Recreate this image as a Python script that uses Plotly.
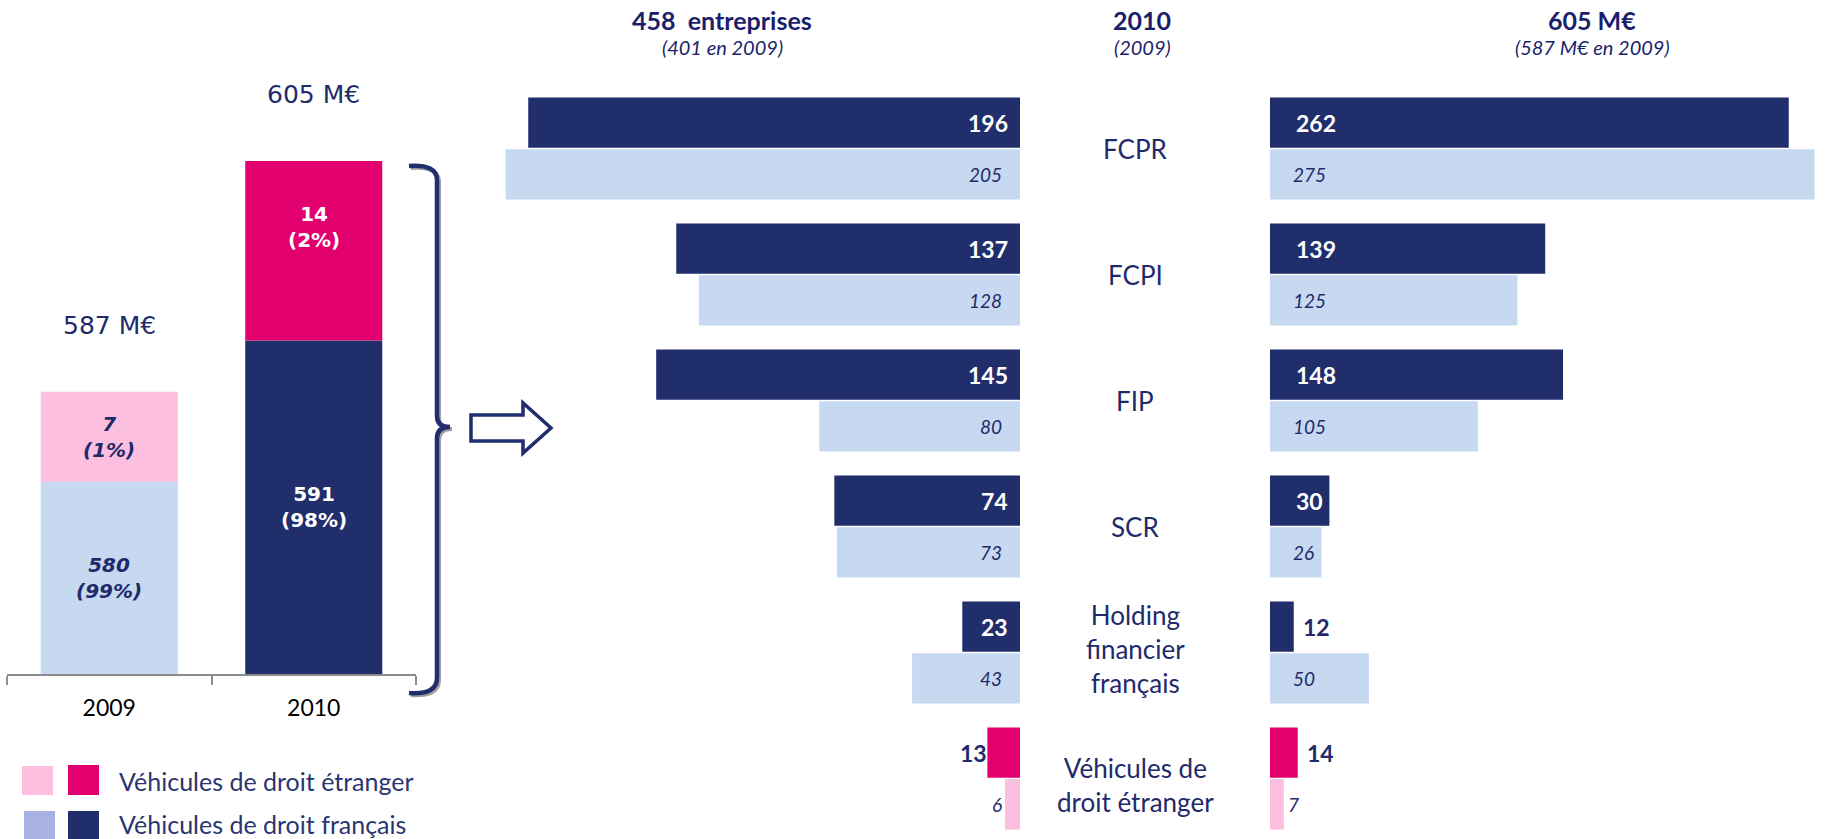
import plotly.graph_objects as go

W, H = 1826, 839          # browser window
M = 0                     # page margin removed by post_script below
FW, FH = W - 2 * M, H - 2 * M

# ---------------- data ----------------
years = ["2009", "2010"]
droit_francais = [580, 591]
droit_etranger = [7, 14]

categories = ["FCPR", "FCPI", "FIP", "SCR",
              "Holding<br>financier<br>français",
              "Véhicules de<br>droit étranger"]
category_is_foreign = [False, False, False, False, False, True]
entreprises_2010 = [196, 137, 145, 74, 23, 13]
entreprises_2009 = [205, 128, 80, 73, 43, 6]
montants_2010 = [262, 139, 148, 30, 12, 14]
montants_2009 = [275, 125, 105, 26, 50, 7]

header_entreprises = ["458\u00a0 entreprises", "(401 en 2009)"]
header_year = ["2010", "(2009)"]
header_montants = ["605 M€", "(587 M€ en 2009)"]
legend_labels = ["Véhicules de droit étranger", "Véhicules de droit français"]

# ---------------- style ----------------
NAVY = "#212E6C"
LIGHT_BLUE = "#C6D9F0"
PINK = "#E2006E"
LIGHT_PINK = "#FDBFDF"
LAVENDER = "#A8B2E2"
TXT = "#1F2A6B"
FONT = "Lato"
LFONT = "DejaVu Sans"
label_yshift = [0, 0, 0, 0, 4, -6]   # small vertical nudges of the centre labels (px)


def px(x):
    return (x - M) / FW


def py(y):
    return 1 - (y - M) / FH


fig = go.Figure()

# ---------------- left stacked chart ----------------
col_fr = [LIGHT_BLUE, NAVY]
col_etr = [LIGHT_PINK, PINK]
fig.add_trace(go.Bar(x=years, y=droit_francais, marker_color=col_fr, width=0.67,
                     xaxis="x3", yaxis="y3", showlegend=False, marker_line_width=0))
fig.add_trace(go.Bar(x=years, y=droit_etranger, base=droit_francais, marker_color=col_etr,
                     width=0.67, xaxis="x3", yaxis="y3", showlegend=False, marker_line_width=0))

Y3_MIN, Y3_MAX = 565, 605
annotations = []
totals = [a + b for a, b in zip(droit_francais, droit_etranger)]
for i, yr in enumerate(years):
    fr, et, tot = droit_francais[i], droit_etranger[i], totals[i]
    p_fr = round(100 * fr / tot)
    p_et = round(100 * et / tot)
    dark = i == 1
    fcol = "white" if dark else TXT
    fmt = (lambda s: f"<b>{s}</b>") if dark else (lambda s: f"<b><i>{s}</i></b>")
    annotations.append(dict(x=i, y=(max(Y3_MIN, 0) + fr) / 2, xref="x3", yref="y3",
                            xanchor="center", yanchor="middle",
                            text=fmt(f"{fr}<br>({p_fr}%)"), showarrow=False,
                            font=dict(family=LFONT, size=20, color=fcol)))
    annotations.append(dict(x=i, y=fr + et / 2, xref="x3", yref="y3",
                            xanchor="center", yanchor="middle",
                            yshift=24 if dark else 0,
                            text=fmt(f"{et}<br>({p_et}%)"), showarrow=False,
                            font=dict(family=LFONT, size=20, color=fcol)))
    annotations.append(dict(x=i, y=tot, xref="x3", yref="y3", yshift=66,
                            xanchor="center", yanchor="middle",
                            text=f"{tot} M€", showarrow=False,
                            font=dict(family=LFONT, size=25, color=TXT)))

# ---------------- butterfly ----------------
c2010 = [PINK if f else NAVY for f in category_is_foreign]
c2009 = [LIGHT_PINK if f else LIGHT_BLUE for f in category_is_foreign]
OFF_TOP, OFF_BOT, BW = -0.405, 0.005, 0.40

for xa, v10, v09 in (("x", entreprises_2010, entreprises_2009),
                     ("x2", montants_2010, montants_2009)):
    fig.add_trace(go.Bar(y=categories, x=v10, orientation="h", marker_color=c2010,
                         offset=OFF_TOP, width=BW, xaxis=xa, yaxis="y",
                         showlegend=False, marker_line_width=0))
    fig.add_trace(go.Bar(y=categories, x=v09, orientation="h", marker_color=c2009,
                         offset=OFF_BOT, width=BW, xaxis=xa, yaxis="y",
                         showlegend=False, marker_line_width=0))

THRESH = 20
for side, xa, v10, v09 in (("L", "x", entreprises_2010, entreprises_2009),
                           ("R", "x2", montants_2010, montants_2009)):
    anc = "right" if side == "L" else "left"
    for i in range(len(categories)):
        for v, yoff, bold in ((v10[i], OFF_TOP + BW / 2, True), (v09[i], OFF_BOT + BW / 2, False)):
            if bold:
                txt = f"<b>{v}</b>"
                size = 23
            else:
                txt = f"<i>{v}</i>"
                size = 19
            if v >= THRESH:
                col = "white" if bold else TXT
                x = 0
                if side == "R":
                    shift = 24 if bold else 21
                else:
                    shift = -(10 if bold else 16)
            else:
                col = TXT
                x = v
                if side == "R":
                    shift = 7 if bold else 2
                else:
                    shift = 2 if bold else -1
            annotations.append(dict(x=x, y=i + yoff, xref=xa, yref="y", xanchor=anc,
                                    yanchor="middle", xshift=shift, text=txt,
                                    showarrow=False,
                                    font=dict(family=FONT, size=size, color=col)))

# category labels
for i, c in enumerate(categories):
    annotations.append(dict(x=px(1135), y=i, xref="paper", yref="y", text=c,
                            xanchor="center", yanchor="middle", showarrow=False,
                            yshift=label_yshift[i],
                            font=dict(family=FONT, size=26, color=TXT)))

# headers
for xc, (h1, h2) in ((722, header_entreprises), (1142, header_year), (1592, header_montants)):
    annotations.append(dict(x=px(xc), y=py(20), xref="paper", yref="paper",
                            xanchor="center", yanchor="middle", text=f"<b>{h1}</b>",
                            showarrow=False, font=dict(family=FONT, size=25, color="#1B1F6B")))
    annotations.append(dict(x=px(xc), y=py(47), xref="paper", yref="paper",
                            xanchor="center", yanchor="middle", text=f"<i>{h2}</i>",
                            showarrow=False, font=dict(family=FONT, size=20, color="#1B1F6B")))

# legend text
for yy, lab in ((781, legend_labels[0]), (824, legend_labels[1])):
    annotations.append(dict(x=px(117), y=py(yy), xref="paper", yref="paper",
                            xanchor="left", yanchor="middle",
                            text=lab, showarrow=False,
                            font=dict(family=FONT, size=25, color="#2A3570")))

# ---------------- decorative shapes ----------------
shapes = []


def path_from(cmds):
    out = []
    for cmd, pts in cmds:
        out.append(cmd + " " + " ".join(f"{px(x):.5f},{py(y):.5f}" for (x, y) in pts))
    return " ".join(out)


def bracket(dx, dy):
    return path_from([
        ("M", [(409 + dx, 166 + dy)]),
        ("Q", [(437 + dx, 164 + dy), (437 + dx, 180 + dy)]),
        ("L", [(437 + dx, 416 + dy)]),
        ("Q", [(437 + dx, 427 + dy), (450 + dx, 427 + dy)]),
        ("M", [(450 + dx, 427 + dy)]),
        ("Q", [(437 + dx, 427 + dy), (437 + dx, 438 + dy)]),
        ("L", [(437 + dx, 678 + dy)]),
        ("Q", [(437 + dx, 695 + dy), (409 + dx, 693 + dy)]),
    ])


shapes.append(dict(type="path", xref="paper", yref="paper", path=bracket(2, 2),
                   line=dict(color="#A0A0A0", width=4)))
shapes.append(dict(type="path", xref="paper", yref="paper", path=bracket(0, 0),
                   line=dict(color=NAVY, width=4.5)))

arrow_pts = [(471, 415), (523, 415), (523, 403), (551, 428), (523, 453), (523, 441), (471, 441)]
arrow_cmds = [("M", [arrow_pts[0]])] + [("L", [p]) for p in arrow_pts[1:]]
shapes.append(dict(type="path", xref="paper", yref="paper",
                   path=path_from(arrow_cmds) + " Z",
                   fillcolor="white", line=dict(color=NAVY, width=3.5)))

# legend squares
for (x0, y0, x1, y1, c) in ((22, 766, 53, 795, LIGHT_PINK), (68, 765, 99, 795, PINK),
                            (24, 811, 55, 839, LAVENDER), (68, 811, 99, 839, NAVY)):
    shapes.append(dict(type="rect", xref="paper", yref="paper", x0=px(x0), x1=px(x1),
                       y0=max(py(y1), 0), y1=py(y0), fillcolor=c, line=dict(width=0)))

fig.update_layout(
    width=FW, height=FH, autosize=False,
    margin=dict(l=0, r=0, t=0, b=0),
    paper_bgcolor="white", plot_bgcolor="rgba(0,0,0,0)",
    barmode="overlay", showlegend=False, hovermode=False,
    annotations=annotations, shapes=shapes,
    xaxis=dict(domain=[px(468), px(1020)], range=[220, 0], visible=False, anchor="y",
               fixedrange=True),
    xaxis2=dict(domain=[px(1270), 1.0], range=[0, (W - M - 1270) / 1.98], visible=False,
                anchor="y", fixedrange=True),
    yaxis=dict(domain=[0, 1], type="category", categoryorder="array",
               categoryarray=categories,
               range=[(H - M - 148.5) / 126, (M - 148.5) / 126], visible=False),
    xaxis3=dict(domain=[px(7), px(416)], anchor="y3", type="category",
                range=[-0.5, 1.5],
                showline=True, linecolor="#8C8C8C", linewidth=2, ticks="outside",
                tickson="boundaries", ticklen=9, tickwidth=2, tickcolor="#8C8C8C",
                tickfont=dict(family=FONT, size=23, color="black"), ticklabelstandoff=12,
                showgrid=False, zeroline=False),
    yaxis3=dict(domain=[py(674), py(161)], range=[Y3_MIN, Y3_MAX], visible=False,
                anchor="x3"),
)

fig.write_html("out.html", config={"displayModeBar": False},
               post_script="document.body.style.margin='0';"
                           "document.body.style.overflow='hidden';")
